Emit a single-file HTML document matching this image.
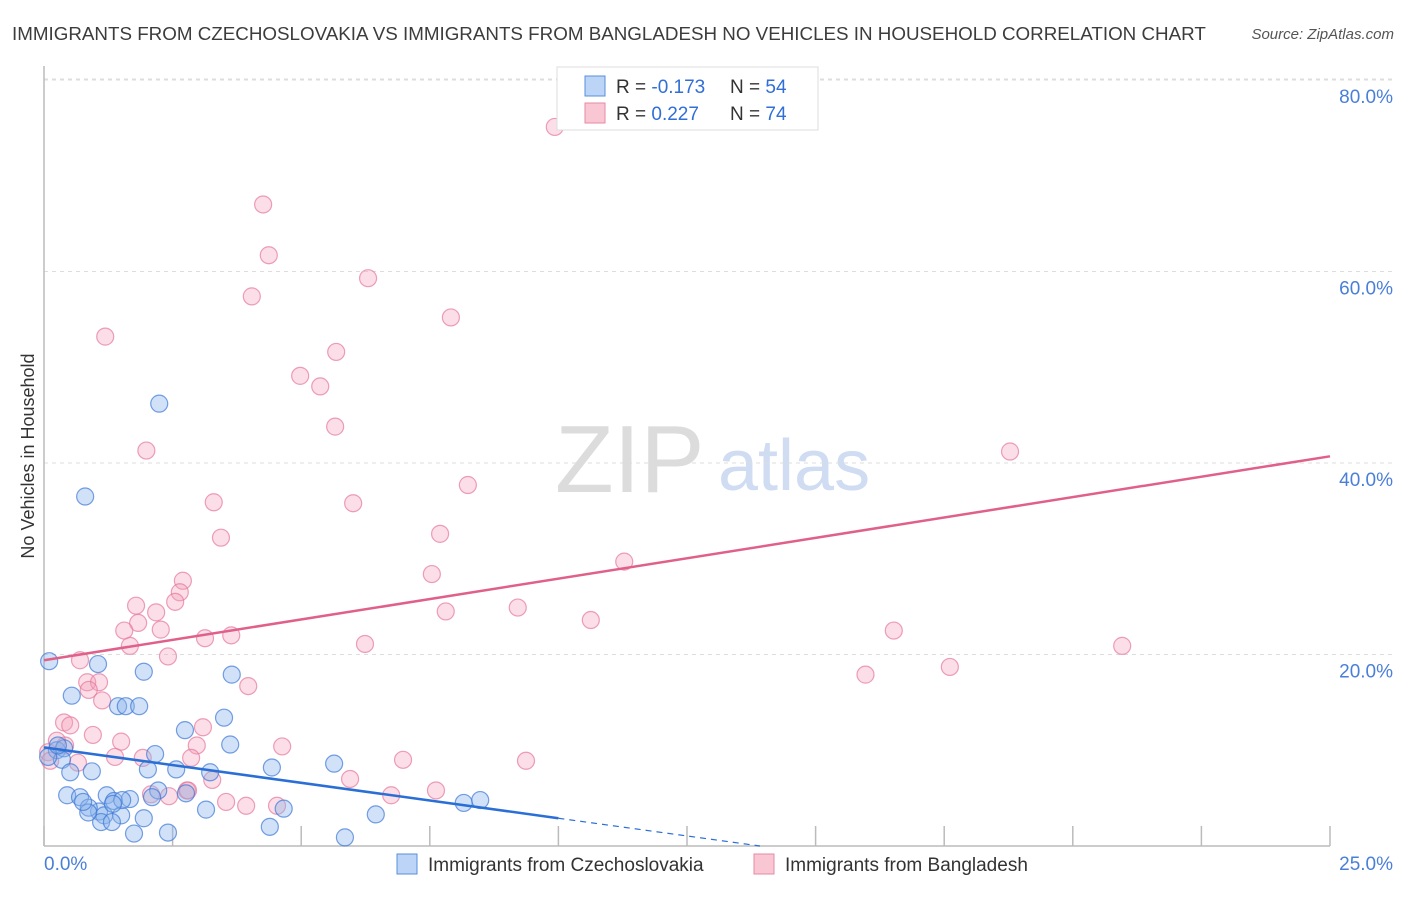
<!DOCTYPE html>
<html><head><meta charset="utf-8"><style>
body{margin:0;background:#fff;font-family:"Liberation Sans",sans-serif}
svg text{font-family:"Liberation Sans",sans-serif}
</style></head><body>
<svg id="chart" width="1406" height="892" viewBox="0 0 1406 892" xmlns="http://www.w3.org/2000/svg">
<text x="12" y="40" font-size="18.8" fill="#3c3c3c">IMMIGRANTS FROM CZECHOSLOVAKIA VS IMMIGRANTS FROM BANGLADESH NO VEHICLES IN HOUSEHOLD CORRELATION CHART</text>
<text x="1394" y="39" font-size="15" fill="#555" font-style="italic" text-anchor="end">Source: ZipAtlas.com</text>
<g>
<text x="555" y="492" font-size="96" fill="#dcdcdc" font-family="Liberation Serif,serif">ZIP</text>
<text x="718" y="490" font-size="72" fill="#cfdcf2">atlas</text>
</g>
<g id="grid"></g>
<g id="axes"></g>
<text transform="translate(34,456) rotate(-90)" font-size="18" fill="#333" text-anchor="middle">No Vehicles in Household</text>
<g id="pts"></g>
<g id="lines"></g>
<g>
<rect x="557" y="67" width="261" height="63" fill="#fff" stroke="#ddd"/>
<rect x="585" y="76" width="20" height="20" fill="#bcd4f5" stroke="#5a8fdc"/>
<rect x="585" y="103" width="20" height="20" fill="#f9c6d4" stroke="#e68aa5"/>
<text x="616" y="93" font-size="19" fill="#333">R = <tspan fill="#2f6fd6">-0.173</tspan></text>
<text x="730" y="93" font-size="19" fill="#333">N = <tspan fill="#2f6fd6">54</tspan></text>
<text x="616" y="120" font-size="19" fill="#333">R = <tspan fill="#2f6fd6"> 0.227</tspan></text>
<text x="730" y="120" font-size="19" fill="#333">N = <tspan fill="#2f6fd6">74</tspan></text>
</g>
<g>
<rect x="397" y="854" width="20" height="20" fill="#bcd4f5" stroke="#5a8fdc"/>
<text x="428" y="871" font-size="19" fill="#333">Immigrants from Czechoslovakia</text>
<rect x="754" y="854" width="20" height="20" fill="#f9c6d4" stroke="#e68aa5"/>
<text x="785" y="871" font-size="19" fill="#333">Immigrants from Bangladesh</text>
</g>
</svg>
<script>
const xTicks=[0,2.5,5,7.5,10,12.5,15,17.5,20,22.5,25];
const yTicks=[20,40,60,80];
const yTickLabels=["20.0%","40.0%","60.0%","80.0%"];
const xEndLabels=["0.0%","25.0%"];
const blueX=[0.1,1.05,0.54,1.94,2.24,0.80,1.44,1.59,3.65,3.50,2.74,2.16,0.25,0.39,0.35,0.51,0.93,2.02,2.57,3.23,4.43,5.64,0.45,0.70,1.22,1.36,1.67,1.07,0.87,1.17,1.50,1.94,2.22,2.10,2.76,3.15,4.66,6.45,8.16,8.48,1.75,2.41,4.39,5.85,1.11,0.86,1.52,0.08,0.27,1.34,0.76,3.62,1.85,1.32];
const blueY=[19.3,19.0,15.7,18.2,46.2,36.5,14.6,14.6,17.9,13.4,12.1,9.6,10.0,10.2,9.0,7.7,7.8,8.0,8.0,7.7,8.2,8.6,5.3,5.1,5.3,4.7,4.9,3.6,4.0,3.2,3.2,2.9,5.8,5.1,5.5,3.8,3.9,3.3,4.5,4.8,1.3,1.4,2.0,0.9,2.5,3.5,4.8,9.3,10.5,4.4,4.6,10.6,14.6,2.5];
const pinkX=[9.93,4.26,4.37,4.04,6.30,7.91,1.19,5.68,4.98,5.37,5.66,1.99,18.78,8.24,3.30,6.01,3.44,7.70,11.28,7.54,2.70,2.64,2.55,1.79,2.18,1.83,7.81,9.21,10.63,1.56,2.27,3.64,3.13,1.67,6.24,2.41,16.52,20.96,0.70,15.97,17.61,3.97,0.84,1.07,0.87,1.13,0.39,0.51,0.95,1.50,3.09,2.97,4.63,1.92,1.38,2.86,6.98,9.37,0.41,0.25,0.08,5.95,7.62,6.75,3.27,3.54,2.43,2.78,2.08,3.93,4.53,2.80,0.66,0.12];
const pinkY=[75.1,67.0,61.7,57.4,59.3,55.2,53.2,51.6,49.1,48.0,43.8,41.3,41.2,37.7,35.9,35.8,32.2,32.6,29.7,28.4,27.7,26.5,25.5,25.1,24.4,23.3,24.5,24.9,23.6,22.5,22.6,22.0,21.7,20.9,21.1,19.8,22.5,20.9,19.4,17.9,18.7,16.7,17.1,17.1,16.3,15.2,12.9,12.6,11.6,10.9,12.4,10.5,10.4,9.2,9.3,9.2,9.0,8.9,10.5,11.0,9.8,7.0,5.8,5.3,6.9,4.6,5.2,5.8,5.4,4.2,4.2,5.8,8.7,8.9];
const pinkTrend=[19.4,40.7];
const blueTrend=[10.3,2.9];
const blueSolidEnd=10;
const X0=44,X1=1330,Y0=846,Y80=80;
const sx=v=>X0+(X1-X0)*v/25;
const sy=v=>Y0-(Y0-Y80)*v/80;
const NS="http://www.w3.org/2000/svg";
function mk(tag,attrs,parent){const e=document.createElementNS(NS,tag);for(const k in attrs)e.setAttribute(k,attrs[k]);parent.appendChild(e);return e;}
const grid=document.getElementById('grid'),axes=document.getElementById('axes');
yTicks.forEach((t,i)=>{
 const g=mk('line',{x1:X0,x2:1394,y1:sy(t),y2:sy(t),stroke:'#ddd','stroke-dasharray':'4,4'},grid);
 
 
 const l=mk('text',{x:1393,y:sy(t)+23,'font-size':19,fill:'#4a7fd8','text-anchor':'end'},axes);
 l.textContent=yTickLabels[i];
 
 
});
const topGrid=mk('line',{x1:X0,x2:1394,y1:sy(80)-1,y2:sy(80)-1,stroke:'#ddd','stroke-dasharray':'4,4'},grid);


const ya=mk('line',{x1:X0,x2:X0,y1:66,y2:Y0,stroke:'#bbb','stroke-width':1.5},axes);


const xa=mk('line',{x1:X0,x2:X1,y1:Y0,y2:Y0,stroke:'#bbb','stroke-width':1.5},axes);


xTicks.forEach(t=>{
 const k=mk('line',{x1:sx(t),x2:sx(t),y1:826,y2:Y0,stroke:'#bbb','stroke-width':1.5},axes);
 
 
});
[[0,'start',44],[1,'end',1393]].forEach(([i,a,x])=>{
 const l=mk('text',{x:x,y:870,'font-size':19,fill:'#4a7fd8','text-anchor':a},axes);
 l.textContent=xEndLabels[i];
 
 
});
const pts=document.getElementById('pts');


pinkX.forEach((x,i)=>{
 const c=mk('circle',{cx:sx(x),cy:sy(pinkY[i]),r:8.5,fill:'rgba(244,160,185,0.35)',stroke:'rgba(230,120,155,0.7)','stroke-width':1.2},pts);
 
 
});
blueX.forEach((x,i)=>{
 const c=mk('circle',{cx:sx(x),cy:sy(blueY[i]),r:8.5,fill:'rgba(140,180,235,0.4)',stroke:'rgba(60,120,215,0.7)','stroke-width':1.2},pts);
 
 
});
const lines=document.getElementById('lines');
const pl=mk('line',{x1:sx(0),y1:sy(pinkTrend[0]),x2:sx(25),y2:sy(pinkTrend[1]),stroke:'#e0608a','stroke-width':2.5},lines);


const slope=(blueTrend[1]-blueTrend[0])/blueSolidEnd;
const bl=mk('line',{x1:sx(0),y1:sy(blueTrend[0]),x2:sx(blueSolidEnd),y2:sy(blueTrend[1]),stroke:'#2a6fd6','stroke-width':2.5},lines);


const xz=-blueTrend[0]/slope;
const bd=mk('line',{x1:sx(blueSolidEnd),y1:sy(blueTrend[1]),x2:sx(xz),y2:sy(0),stroke:'#2a6fd6','stroke-width':1.2,'stroke-dasharray':'6,5'},lines);


</script>
</body></html>
